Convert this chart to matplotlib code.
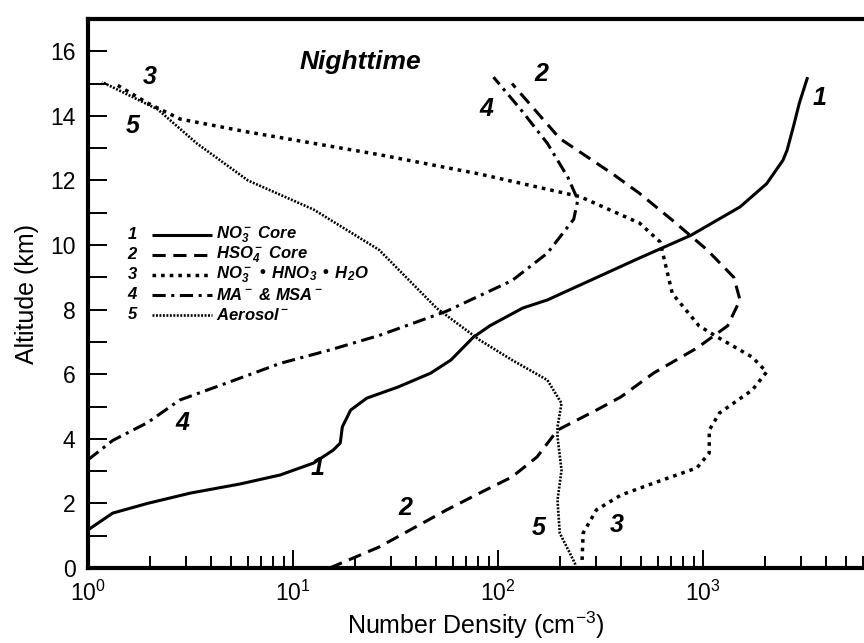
import numpy as np
import matplotlib
matplotlib.use("Agg")
import matplotlib.pyplot as plt
from matplotlib.ticker import FixedLocator, LogLocator, FuncFormatter, NullFormatter

plt.rcParams['font.family'] = ['Liberation Sans', 'DejaVu Sans']
plt.rcParams['mathtext.default'] = 'regular'
plt.rcParams['lines.scale_dashes'] = False

# altitude (km) and number density (cm^-3)
alt_1 = [1.18, 1.70, 2.00, 2.32, 2.60, 2.88, 3.25, 3.65, 3.87, 4.37, 4.89, 5.26, 5.60,
         6.03, 6.44, 7.15, 7.50, 8.05, 8.30, 9.60, 10.3, 11.18, 11.9, 12.63, 12.94,
         13.65, 14.4, 15.2]
nd_1 = [1.0, 1.32, 1.95, 3.16, 5.5, 8.65, 12.6, 15.7, 17.0, 17.4, 19.1, 22.9, 32.4,
        46.8, 58.9, 75.9, 91.2, 132, 174, 490, 871, 1514, 2042, 2455, 2570,
        2754, 2950, 3236]

alt_2 = [0.0, 0.65, 1.8, 2.32, 2.82, 3.44, 4.27, 4.89, 5.3, 6.04, 6.81, 7.5, 8.3,
         9.0, 9.85, 10.77, 11.6, 12.2, 13.3, 15.0]
nd_2 = [15.1, 26.3, 56.2, 81.3, 117, 155, 195, 302, 398, 575, 933, 1318, 1514,
        1413, 1047, 708, 490, 363, 200, 117]

alt_3 = [0.25, 1.08, 1.8, 2.26, 2.63, 3.1, 3.56, 4.27, 4.8, 5.51, 6.07, 6.53, 7.15,
         7.5, 8.5, 9.3, 10.1, 10.68, 11.5, 12.2, 12.8, 13.15, 13.5, 13.9, 14.4, 15.0]
nd_3 = [257, 260, 302, 398, 575, 933, 1072, 1072, 1202, 1738, 2042, 1738, 1175,
        955, 708, 661, 617, 490, 251, 81.3, 26.3, 12.6, 6.03, 2.82, 1.95, 1.35]

alt_4 = [3.35, 3.95, 4.5, 5.2, 5.76, 6.34, 6.75, 7.2, 7.95, 8.9, 9.75, 10.8, 11.4,
         12.1, 13.15, 14.2, 15.2]
nd_4 = [1.0, 1.32, 1.95, 2.8, 4.9, 8.7, 15.1, 26.3, 56, 117, 174, 234, 245,
        219, 174, 129, 95]

alt_5 = [0.0, 0.15, 1.08, 2.1, 3.03, 4.06, 4.37, 5.1, 5.82, 6.44, 7.06, 8.05, 9.85,
         11.1, 12.0, 13.15, 14.2, 15.05]
nd_5 = [240, 237, 200, 195, 204, 195, 195, 204, 174, 117, 81.3, 50.1, 26.3,
        12.6, 6.03, 3.39, 2.19, 1.17]

series_labels = [r"NO$_3^-$ Core", r"HSO$_4^-$ Core",
                 r"NO$_3^-$ • HNO$_3$ • H$_2$O", r"MA$^-$ & MSA$^-$", r"Aerosol$^-$"]
series_numbers = ["1", "2", "3", "4", "5"]

# curve number tags: (density, altitude)
tag_text = ["1", "1", "2", "2", "3", "3", "4", "4", "5", "5"]
tag_x = [3715, 13.1, 162, 35.2, 2.0, 380, 88, 2.9, 1.66, 157]
tag_y = [14.55, 3.1, 15.3, 1.86, 15.2, 1.33, 14.2, 4.5, 13.7, 1.24]

fig = plt.figure(figsize=(8.64, 6.43), dpi=100)
ax = fig.add_axes([88 / 864, 75 / 643, 776 / 864, 549 / 643])

styles = [dict(ls='-', lw=2.2),
          dict(ls=(0, (9.5, 5.5)), lw=2.2),
          dict(ls=(0, (2.6, 3.6)), lw=2.5),
          dict(ls=(0, (9.5, 4, 2.2, 4)), lw=2.2),
          dict(ls=(0, (1.4, 1.1)), lw=1.9)]
data = [(nd_1, alt_1), (nd_2, alt_2), (nd_3, alt_3), (nd_4, alt_4), (nd_5, alt_5)]
for (x, y), st in zip(data, styles):
    ax.plot(x, y, color='black', solid_capstyle='butt', dash_capstyle='butt',
            solid_joinstyle='round', dash_joinstyle='round', **st)

ax.set_xscale('log')
ax.set_xlim(1, 10 ** 3.785)
ax.set_ylim(0, 17)

ax.xaxis.set_major_locator(FixedLocator([1, 10, 100, 1000]))
ax.xaxis.set_minor_locator(LogLocator(base=10, subs=np.arange(2, 10)))
ax.xaxis.set_minor_formatter(NullFormatter())
ax.xaxis.set_major_formatter(FuncFormatter(lambda v, p: r"$10^{%d}$" % round(np.log10(v))))
ax.set_yticks(np.arange(0, 17, 2))
ax.set_yticks(np.arange(1, 17, 2), minor=True)

ax.tick_params(axis='x', which='major', direction='in', length=13, width=1.4,
               labelsize=16.5, pad=9)
ax.tick_params(axis='x', which='minor', direction='in', length=8.5, width=1.4)
ax.tick_params(axis='y', which='both', direction='in', length=14, width=1.4,
               labelsize=16.5, pad=9)
ax.tick_params(top=False, right=False, which='both')

for side in ['left', 'bottom', 'top']:
    ax.spines[side].set_linewidth(3)
ax.spines['right'].set_visible(False)

ax.set_xlabel(r"Number Density (cm$^{-3}$)", fontsize=18, labelpad=3)
ax.set_ylabel("Altitude (km)", fontsize=18, labelpad=8)

ax.text(21.2, 15.67, "Nighttime", fontsize=19, fontweight='bold', style='italic',
        ha='center', va='center')
for t, x, y in zip(tag_text, tag_x, tag_y):
    ax.text(x, y, t, fontsize=18, fontweight='bold', style='italic',
            ha='center', va='center')

# legend drawn by hand: number, line sample, label
for i, (st, lab, num) in enumerate(zip(styles, series_labels, series_numbers)):
    yy = 0.607 - i * 0.0365
    ax.text(0.057, yy, num, transform=ax.transAxes, fontsize=12, fontweight='bold',
            style='italic', ha='center', va='center')
    ax.plot([0.082, 0.160], [yy, yy], transform=ax.transAxes, color='black',
            solid_capstyle='butt', dash_capstyle='butt', **st)
    ax.text(0.165, yy, lab, transform=ax.transAxes, fontsize=12, fontweight='bold',
            style='italic', ha='left', va='center')

fig.savefig("out.png", dpi=100)
